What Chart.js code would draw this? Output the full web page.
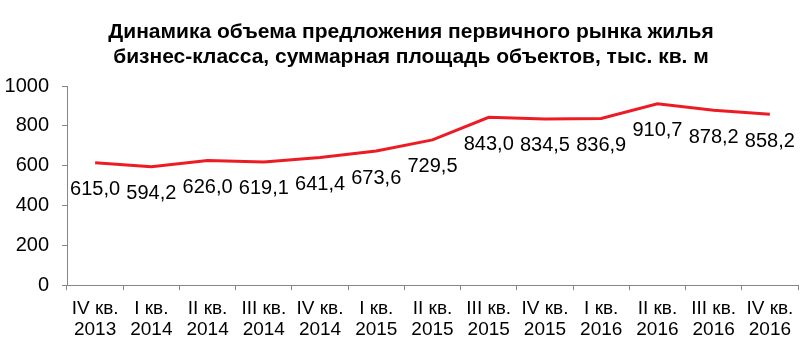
<!DOCTYPE html>
<html>
<head>
<meta charset="utf-8">
<script src="https://cdn.jsdelivr.net/npm/chart.js@4"></script>
<style>
  html, body { margin: 0; padding: 0; background: #fff; }
  #wrap { width: 804px; height: 363px; position: relative; }
</style>
</head>
<body>
<div id="wrap"><canvas id="myChart"></canvas></div>
<script>
(function () {
  "use strict";

  var quarters = ["IV кв.", "I кв.", "II кв.", "III кв.", "IV кв.", "I кв.", "II кв.",
                  "III кв.", "IV кв.", "I кв.", "II кв.", "III кв.", "IV кв."];
  var years = ["2013", "2014", "2014", "2014", "2014", "2015", "2015",
               "2015", "2015", "2016", "2016", "2016", "2016"];
  var values = [615.0, 594.2, 626.0, 619.1, 641.4, 673.6, 729.5,
                843.0, 834.5, 836.9, 910.7, 878.2, 858.2];
  var yTicks = [0, 200, 400, 600, 800, 1000];
  var titleLines = ["Динамика объема предложения первичного рынка жилья",
                    "бизнес-класса, суммарная площадь объектов, тыс. кв. м"];

  var labels = quarters.map(function (q, i) { return [q, years[i]]; });
  var font = '"Liberation Sans", Arial, sans-serif';
  var axisColor = "#868686";

  // title drawn by hand: it sits a bit right of the canvas centre
  var chartTitle = {
    id: "chartTitle",
    afterDraw: function (chart) {
      var ctx = chart.ctx;
      ctx.save();
      ctx.font = "bold 21px " + font;
      ctx.fillStyle = "#000";
      ctx.textAlign = "center";
      ctx.textBaseline = "middle";
      titleLines.forEach(function (line, i) {
        ctx.fillText(line, 411, 32 + i * 25);
      });
      ctx.restore();
    }
  };

  // value labels under each point, comma as decimal mark
  var valueLabels = {
    id: "valueLabels",
    afterDatasetsDraw: function (chart) {
      var ctx = chart.ctx;
      var meta = chart.getDatasetMeta(0);
      ctx.save();
      ctx.font = "20px " + font;
      ctx.fillStyle = "#000";
      ctx.textAlign = "center";
      ctx.textBaseline = "middle";
      meta.data.forEach(function (pt, i) {
        ctx.fillText(values[i].toFixed(1).replace(".", ","), pt.x, pt.y + 27);
      });
      ctx.restore();
    }
  };

  var ctx = document.getElementById("myChart");
  var myChart = new Chart(ctx, {
    type: "line",
    data: {
      labels: labels,
      datasets: [
        {
          data: values,
          borderColor: "#ED1C24",
          borderWidth: 3,
          pointRadius: 0,
          tension: 0,
          fill: false
        }
      ]
    },
    plugins: [valueLabels, chartTitle],
    options: {
      responsive: true,
      maintainAspectRatio: false,
      animation: false,
      layout: { padding: { top: 86, left: 4, right: 6, bottom: 15 } },
      plugins: {
        legend: { display: false },
        tooltip: { enabled: false },
        title: { display: false }
      },
      scales: {
        x: {
          offset: true,
          grid: { offset: true, drawOnChartArea: false, tickLength: 5, color: axisColor },
          border: { color: axisColor, width: 1 },
          ticks: {
            color: "#000",
            font: { family: font, size: 19, lineHeight: 1.1 },
            padding: 8,
            maxRotation: 0,
            autoSkip: false
          }
        },
        y: {
          min: yTicks[0],
          max: yTicks[yTicks.length - 1],
          afterFit: function (scale) { scale.width = 63; },
          grid: { drawOnChartArea: false, tickLength: 5, color: axisColor },
          border: { color: axisColor, width: 1 },
          ticks: {
            stepSize: yTicks[1] - yTicks[0],
            color: "#000",
            font: { family: font, size: 20 },
            padding: 13,
            callback: function (v) { return String(v); }
          }
        }
      }
    }
  });
})();
</script>
</body>
</html>
